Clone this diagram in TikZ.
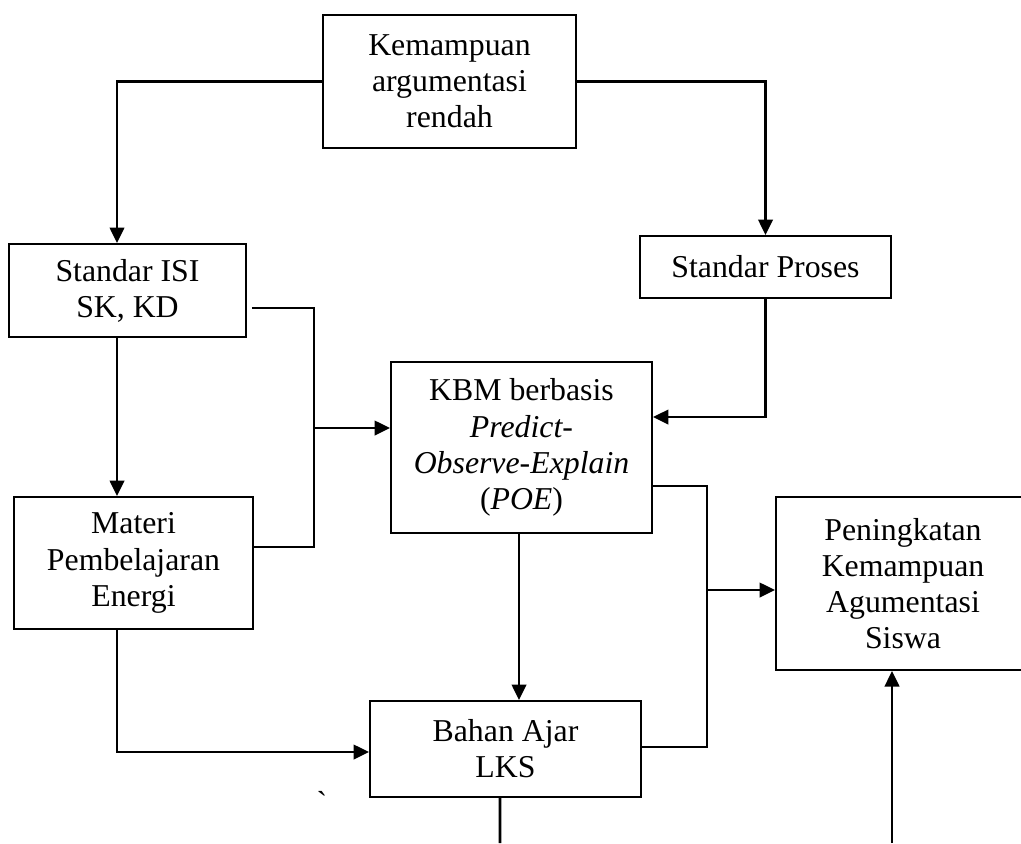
\documentclass[tikz,border=0pt]{standalone}
\usepackage{fontspec}
\setmainfont{Liberation Serif}
\newfontfamily\rawserif[Ligatures=TeXOff]{Liberation Serif}
\usetikzlibrary{arrows.meta}
\tikzset{
  box/.style={draw, line width=1.15pt, align=center, inner sep=0pt,
    font=\fontsize{18.1pt}{20.6pt}\selectfont},
  conn/.style={line width=1.45pt},
  arr/.style={conn, -{Triangle[length=0.31cm,width=0.29cm]}}
}
\begin{document}
\begin{tikzpicture}[x=0.02cm,y=-0.02cm]
\useasboundingbox (0,0) rectangle (1021,843);
\clip (0,0) rectangle (1021,843);
% boxes
\node[box, minimum width=5.06cm, minimum height=2.66cm] (top) at (449.5,81.5) {Kemampuan\\argumentasi\\rendah};
\node[box, minimum width=4.74cm, minimum height=1.86cm] (isi) at (127.5,290.5) {Standar ISI\\SK, KD};
\node[box, minimum width=5.02cm, minimum height=1.24cm] (proses) at (765.5,267) {Standar Proses};
\node[box, minimum width=5.22cm, minimum height=3.42cm] (kbm) at (521.5,447.5) {KBM berbasis\\\textit{Predict-}\\\textit{Observe-Explain}\\(\textit{POE})};
\node[box, minimum width=4.78cm, minimum height=2.64cm] (materi) at (133.5,563) {Materi\\Pembelajaran\\Energi};
\node[box, minimum width=5.08cm, minimum height=3.46cm] (pening) at (903,583.5) {Peningkatan\\Kemampuan\\Agumentasi\\Siswa};
\node[box, minimum width=5.42cm, minimum height=1.92cm] (bahan) at (505.5,749) {Bahan Ajar\\LKS};
\node[anchor=base, inner sep=0pt, font=\rawserif\fontsize{18.1pt}{20.6pt}\selectfont] (tick) at (322,813) {\symbol{96}};
% junction coordinates
\coordinate (jl) at (314,428);
\coordinate (jr) at (707,590);
\coordinate (bot1) at (500,843);
\coordinate (bot2) at (892,843);
% connectors
\draw[arr] (top.west) -| ([xshift=-0.21cm]isi.north);
\draw[arr] (top.east) -| (proses.north);
\draw[arr] ([xshift=-0.21cm]isi.south) -- ([xshift=-0.21cm]isi.south |- materi.north);
\draw[conn] ([shift={(0.1cm,-0.35cm)}]isi.east) -| (jl) |- ([yshift=0.32cm]materi.east);
\draw[arr] (jl) -- (jl -| kbm.west);
\draw[arr] (proses.south) |- ([yshift=0.61cm]kbm.east);
\draw[arr] ([xshift=-0.05cm]kbm.south) -- ([xshift=-0.05cm]kbm.south |- bahan.north);
\draw[arr] ([xshift=-0.33cm]materi.south) |- ([yshift=-0.06cm]bahan.west);
\draw[conn] ([yshift=-0.77cm]kbm.east) -| (jr) |- ([yshift=0.04cm]bahan.east);
\draw[arr] (jr) -- (jr -| pening.west);
\draw[conn] ([xshift=-0.11cm]bahan.south) -- (bot1);
\draw[arr] (bot2) -- (bot2 |- pening.south);
\end{tikzpicture}
\end{document}
